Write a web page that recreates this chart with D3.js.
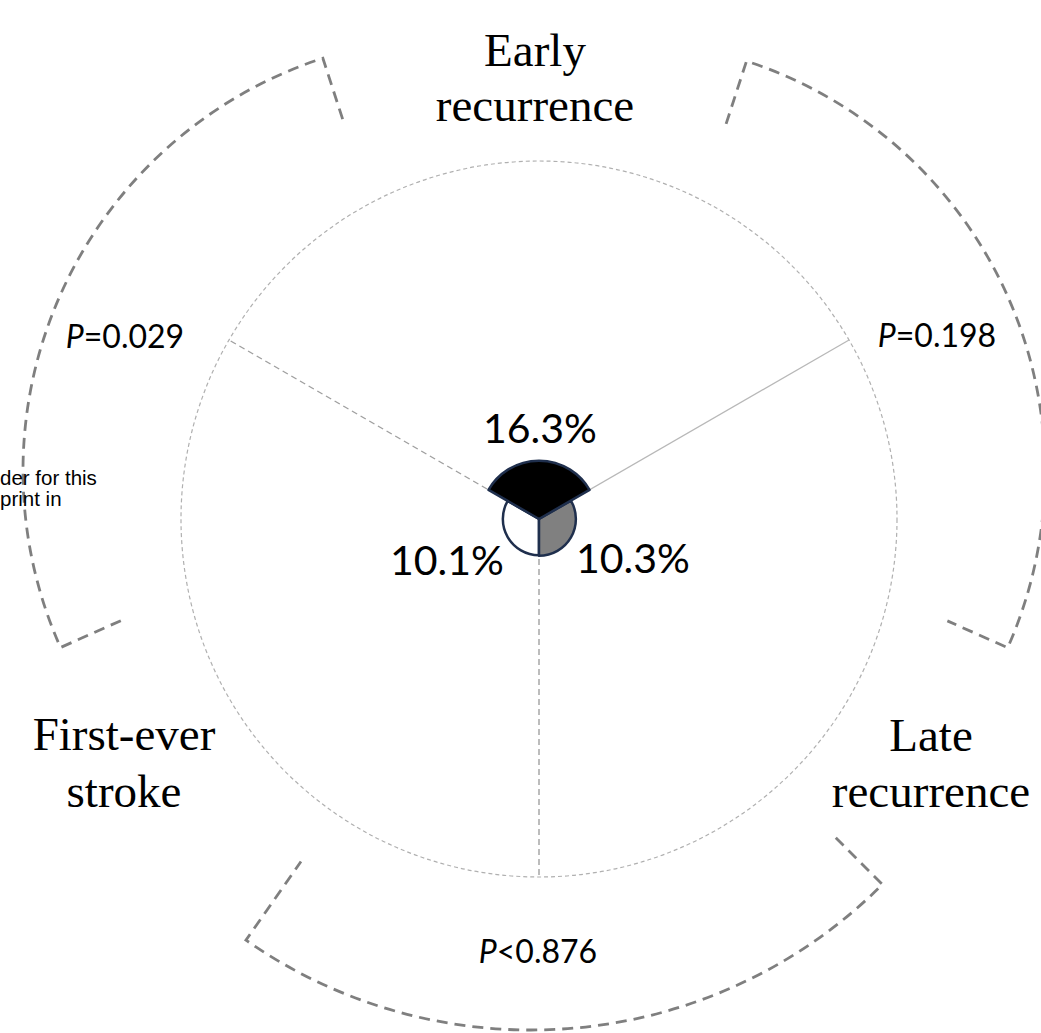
<!DOCTYPE html>
<html>
<head>
<meta charset="utf-8">
<script src="https://cdn.jsdelivr.net/npm/d3@7"></script>
<style>
  html, body { margin: 0; padding: 0; background: #fff; }
  svg { display: block; }
</style>
</head>
<body>
<svg id="chart" width="1041" height="1033"></svg>
<script>
// ---- data ----
const categories = ["Early recurrence", "Late recurrence", "First-ever stroke"];
const categoryLines = [["Early", "recurrence"], ["Late", "recurrence"], ["First-ever", "stroke"]];
const values = [16.3, 10.3, 10.1];
const valueLabels = ["16.3%", "10.3%", "10.1%"];
const comparisonPairs = [["Early recurrence", "Late recurrence"], ["Late recurrence", "First-ever stroke"], ["First-ever stroke", "Early recurrence"]];
const comparisonSymbols = ["P", "P", "P"];
const comparisonValues = ["=0.198", "<0.876", "=0.029"];
const radialMax = 100;

// ---- layout ----
const svg = d3.select("#chart");
const cx = 539, cy = 519;
const rScale = d3.scaleLinear().domain([0, radialMax]).range([0, 358]);
const angleScale = d3.scaleBand().domain(categories).range([-Math.PI / 3, 2 * Math.PI - Math.PI / 3]);
const fills = ["#000000", "#808080", "#ffffff"];
const navy = "#1f2f4d";

const g = svg.append("g").attr("transform", `translate(${cx},${cy})`);

// outer reference circle (100%)
g.append("circle")
  .attr("r", rScale(radialMax))
  .attr("fill", "none")
  .attr("stroke", "#b0b0b0")
  .attr("stroke-width", 1.2)
  .attr("stroke-dasharray", "4,3");

// radial separators
const sepStyles = [
  {dash: "6,4", color: "#a0a0a0", w: 1.4},
  {dash: null, color: "#b8b8b8", w: 1.3},
  {dash: "6,4", color: "#a0a0a0", w: 1.4}
];
categories.map(c => angleScale(c)).forEach((a, i) => {
  const r = rScale(radialMax);
  const s = sepStyles[i];
  const line = g.append("line")
    .attr("x1", 0).attr("y1", 0)
    .attr("x2", r * Math.sin(a)).attr("y2", -r * Math.cos(a))
    .attr("stroke", s.color).attr("stroke-width", s.w);
  if (s.dash) line.attr("stroke-dasharray", s.dash);
});

// sectors
const arc = d3.arc()
  .innerRadius(0)
  .outerRadius(d => rScale(d.value))
  .startAngle(d => angleScale(d.cat))
  .endAngle(d => angleScale(d.cat) + angleScale.bandwidth());
const sectorData = categories.map((c, i) => ({cat: c, value: values[i], fill: fills[i]}));
g.selectAll("path.sector")
  .data(sectorData.slice().sort((a, b) => a.value - b.value))
  .join("path")
  .attr("class", "sector")
  .attr("d", arc)
  .attr("fill", d => d.fill)
  .attr("stroke", navy)
  .attr("stroke-width", 2.5)
  .attr("stroke-linejoin", "round");

// value labels
const valuePos = [[540 - cx, 443 - cy], [633 - cx, 573 - cy], [447 - cx, 575 - cy]];
g.selectAll("text.val")
  .data(valueLabels)
  .join("text")
  .attr("class", "val")
  .attr("x", (d, i) => valuePos[i][0])
  .attr("y", (d, i) => valuePos[i][1])
  .attr("text-anchor", "middle")
  .attr("font-family", "Lato, 'Open Sans', sans-serif")
  .attr("font-size", 41)
  .attr("fill", "#000")
  .text(d => d);

// category labels
const catPos = [[535, [66, 121]], [931, [751, 807]], [124, [750, 807]]];
categoryLines.forEach((lines, i) => {
  const t = svg.append("text")
    .attr("text-anchor", "middle")
    .attr("font-family", "'Liberation Serif', 'Times New Roman', serif")
    .attr("font-size", 47)
    .attr("fill", "#000");
  lines.forEach((ln, j) => {
    t.append("tspan").attr("x", catPos[i][0]).attr("y", catPos[i][1][j]).text(ln);
  });
});

// comparison brackets (dashed arcs with inward ticks)
const brackets = [
  {cx: 613, cy: 472, r: 432, a0: 18, a1: 114, tick0: 66, tick1: 66},
  {cx: 531, cy: 533, r: 497, a0: 135, a1: 215, tick0: 66, tick1: 96},
  {cx: 457, cy: 471, r: 434, a0: -114, a1: -18, tick0: 66, tick1: 66}
];
const toRad = d => d * Math.PI / 180;
brackets.forEach(b => {
  const p = d3.path();
  const a0 = toRad(b.a0), a1 = toRad(b.a1);
  const r0 = b.r - b.tick0, r1 = b.r - b.tick1;
  p.moveTo(b.cx + r0 * Math.sin(a0), b.cy - r0 * Math.cos(a0));
  p.lineTo(b.cx + b.r * Math.sin(a0), b.cy - b.r * Math.cos(a0));
  p.arc(b.cx, b.cy, b.r, a0 - Math.PI / 2, a1 - Math.PI / 2, false);
  p.lineTo(b.cx + r1 * Math.sin(a1), b.cy - r1 * Math.cos(a1));
  svg.append("path")
    .attr("d", p.toString())
    .attr("fill", "none")
    .attr("stroke", "#7f7f7f")
    .attr("stroke-width", 2.8)
    .attr("stroke-dasharray", "11,7");
});

// comparison labels
const pPos = [[937, 347], [538, 963], [125, 348]];
comparisonValues.forEach((v, i) => {
  const t = svg.append("text")
    .attr("x", pPos[i][0]).attr("y", pPos[i][1])
    .attr("text-anchor", "middle")
    .attr("font-family", "Lato, 'Open Sans', sans-serif")
    .attr("font-size", 32)
    .attr("fill", "#000");
  t.append("tspan").attr("font-style", "italic").text(comparisonSymbols[i]);
  t.append("tspan").text(v);
});

// stray clipped text box fragment at left edge
const stray = svg.append("text")
  .attr("font-family", "'Liberation Sans', Arial, sans-serif")
  .attr("font-size", 20.5)
  .attr("fill", "#000");
stray.append("tspan").attr("x", 0).attr("y", 485).text("der for this");
stray.append("tspan").attr("x", 0).attr("y", 506).text("print in");
</script>
</body>
</html>
